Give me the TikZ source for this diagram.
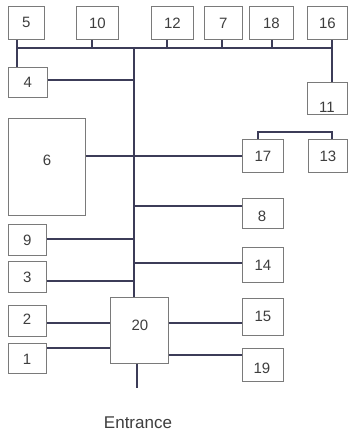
\documentclass[tikz,border=0pt]{standalone}
\usepackage{fontspec}
\setmainfont{Liberation Sans}
\definecolor{boxc}{HTML}{7A7A7A}
\definecolor{linec}{HTML}{3C3C58}
\definecolor{txtc}{HTML}{3E3E3E}
\begin{document}
\begin{tikzpicture}[x=1pt,y=-1pt,
  bx/.style={draw=boxc,line width=0.8pt,inner sep=0pt,text=txtc},
  ln/.style={draw=linec,line width=1.1pt}]
\useasboundingbox (0,0) rectangle (352,437);
\fill[white] (0,0) rectangle (352,437);
\newcommand{\bxat}[5]{\node[bx,minimum width=#4-#2,minimum height=#5-#3,anchor=north west] (#1) at (#2,#3) {};}
\bxat{b5}{8}{6}{44}{39}
\bxat{b10}{76}{6}{118}{39}
\bxat{b12}{151}{6}{193}{39}
\bxat{b7}{204}{6}{242}{39}
\bxat{b18}{249}{6}{293}{39}
\bxat{b16}{307}{6}{347}{39}
\bxat{b4}{8}{67}{47}{97}
\bxat{b11}{307}{82}{347}{114}
\bxat{b6}{8}{118}{85}{215}
\bxat{b17}{242}{139}{283}{172}
\bxat{b13}{308}{139}{347}{172}
\bxat{b8}{242}{198}{283}{228}
\bxat{b9}{8}{224}{46}{255}
\bxat{b14}{242}{247}{283}{282}
\bxat{b3}{8}{261}{46}{292}
\bxat{b20}{110}{297}{168}{363}
\bxat{b15}{242}{298}{283}{335}
\bxat{b2}{8}{305}{46}{336}
\bxat{b1}{8}{343}{46}{373}
\bxat{b19}{242}{348}{283}{381}
% labels
\tikzset{lb/.style={text=txtc,font=\fontsize{15}{17}\selectfont,inner sep=0pt}}
\node[lb] (t5) at (b5.center) {5};
\node[lb] (t10) at (b10.center) {10};
\node[lb] (t12) at (b12.center) {12};
\node[lb] (t7) at (b7.center) {7};
\node[lb] (t18) at (b18.center) {18};
\node[lb] (t16) at (b16.center) {16};
\node[lb] (t4) at (b4.center) {4};
\node[lb] (t11) at (327,107) {11};
\node[lb] (t6) at (47,160) {6};
\node[lb] (t17) at (b17.center) {17};
\node[lb] (t13) at (b13.center) {13};
\node[lb] (t8) at (262,216) {8};
\node[lb] (t9) at (b9.center) {9};
\node[lb] (t14) at (b14.center) {14};
\node[lb] (t3) at (b3.center) {3};
\node[lb] (t20) at (140,325) {20};
\node[lb] (t15) at (b15.center) {15};
\node[lb] (t2) at (27,319) {2};
\node[lb] (t1) at (27,359) {1};
\node[lb] (t19) at (262,368) {19};
\node[lb,font=\fontsize{17}{19}\selectfont] (ent) at (138,423) {Entrance};
% bus
\coordinate (busL) at (17,48);
\coordinate (busR) at (332,48);
\coordinate (trT) at (134,48);
\draw[ln] (busL) -- (busR);
\draw[ln] (b5.south -| busL) -- (b4.north -| busL);
\draw[ln] (b10.south -| 92,0) -- (92,48);
\draw[ln] (b12.south -| 167,0) -- (167,48);
\draw[ln] (b7.south -| 222,0) -- (222,48);
\draw[ln] (b18.south -| 272,0) -- (272,48);
\draw[ln] (b16.south -| busR) -- (b11.north -| busR);
% trunk
\draw[ln] (trT) -- (b20.north -| trT);
\draw[ln] (b4.east |- 0,80) -- (134,80);
\draw[ln] (b6.east |- 0,156) -- (b17.west |- 0,156);
\draw[ln] (134,206) -- (b8.west |- 0,206);
\draw[ln] (b9.east |- 0,239) -- (134,239);
\draw[ln] (134,263) -- (b14.west |- 0,263);
\draw[ln] (b3.east |- 0,281) -- (134,281);
% bracket 17-13
\draw[ln] (b17.north -| 258,0) -- (258,132) -- (332,132) -- (b13.north -| 332,0);
% box 20 links
\draw[ln] (b2.east |- 0,323) -- (b20.west |- 0,323);
\draw[ln] (b1.east |- 0,348) -- (b20.west |- 0,348);
\draw[ln] (b20.east |- 0,323) -- (b15.west |- 0,323);
\draw[ln] (b20.east |- 0,355) -- (b19.west |- 0,355);
\coordinate (entT) at (137,388);
\draw[ln] (b20.south -| entT) -- (entT);
\end{tikzpicture}
\end{document}
